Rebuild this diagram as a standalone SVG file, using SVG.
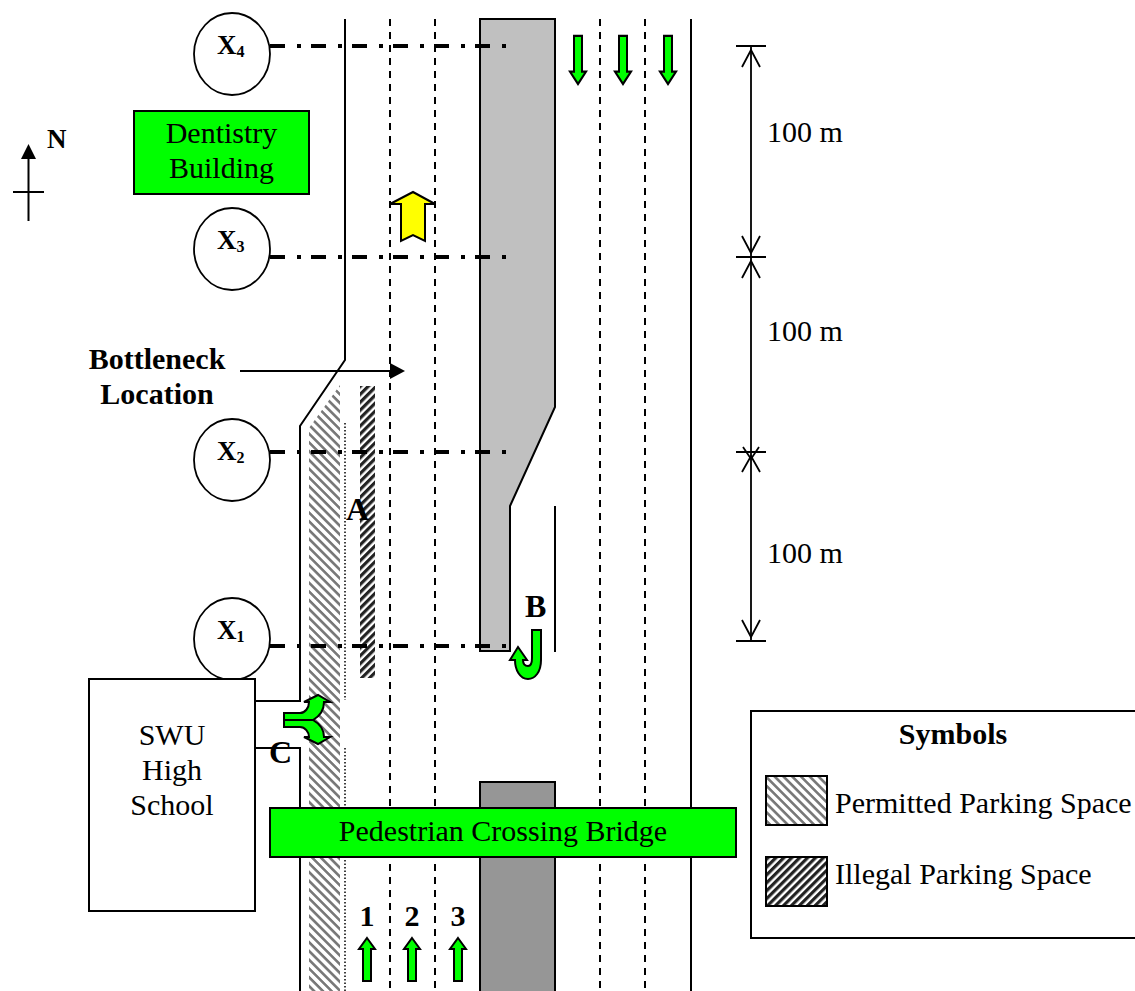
<svg xmlns="http://www.w3.org/2000/svg" width="1135" height="991" viewBox="0 0 1135 991">
<style>
text{font-family:"Liberation Serif","Times New Roman",serif;font-size:30px;fill:#000}
.b{font-weight:bold}
.m{text-anchor:middle}
.x{font-weight:bold;font-size:27px}
.sub{font-size:16px}
.abc{font-weight:bold;font-size:32px}
.road{fill:none;stroke:#000;stroke-width:2}
.lane{fill:none;stroke:#000;stroke-width:2;stroke-dasharray:7 6}
.sec{fill:none;stroke:#000;stroke-width:4;stroke-dasharray:15 12 4 10}
.box{stroke:#000;stroke-width:2}
.g{fill:#00ff00;stroke:#000;stroke-width:2}
.dim{fill:none;stroke:#000;stroke-width:1.8}
.circ{fill:#fff;stroke:#000;stroke-width:1.8}
</style>
<defs>
<pattern id="perm" width="6.2" height="6.2" patternUnits="userSpaceOnUse" patternTransform="rotate(45)"><rect width="6.2" height="6.2" fill="#fff"/><rect width="6.2" height="2.6" fill="#777"/></pattern>
<pattern id="illegal" width="5.6" height="5.6" patternUnits="userSpaceOnUse" patternTransform="rotate(-45)"><rect width="5.6" height="5.6" fill="#fff"/><rect width="5.6" height="3.2" fill="#222"/></pattern>
<path id="up" class="g" d="M0,0 L8,11 H4 V43 H-4 V11 H-8 Z"/>
</defs>

<g id="parking">
<polygon points="340,385 309,428 309,991 340,991" fill="url(#perm)"/>
<rect x="360" y="386" width="15" height="292" fill="url(#illegal)"/>
</g>

<g id="median-north"><polygon class="box" fill="#c0c0c0" points="480,19 555,19 555,407 510,506 510,651 480,651"/></g>
<g id="median-south"><rect class="box" fill="#969696" x="480" y="782" width="75" height="212"/></g>

<g id="connectors">
<path class="road" d="M345,19 V360 L300,426 V701 H255"/>
<path class="road" d="M255,748 H300 V991"/>
<path class="road" d="M691,19 V991"/>
<path class="road" d="M555,506 V652"/>
<path fill="none" stroke="#000" stroke-width="1.5" stroke-dasharray="1.5 2" d="M345,423 V700 M345,748 V991"/>
<path class="lane" d="M390,19 V991 M435,19 V991 M600,19 V991 M645,19 V991"/>
<path class="sec" d="M270,46 H507 M270,257 H507 M270,452 H507 M270,646 H507"/>
<path class="road" d="M240,371 H392"/>
<polygon points="405,371 390,363 390,379" fill="#000"/>
<path class="dim" d="M751,46 V641 M736,46 H766 M736,257 H766 M736,452 H766 M736,641 H766"/>
<path class="dim" d="M742,67 L751,50 L760,67 M742,236 L751,253 L760,236 M742,278 L751,261 L760,278 M743,447 L751,459 L759,447 M742,472 L751,456 L760,472 M742,620 L751,637 L760,620"/>
<path class="road" d="M28.5,221 V155 M13,192 H44"/>
<polygon points="28.5,144 21,159 36,159" fill="#000"/>
</g>

<g id="arrows">
<use href="#up" transform="translate(578,84) rotate(180) scale(1,1.12)"/>
<use href="#up" transform="translate(623,84) rotate(180) scale(1,1.12)"/>
<use href="#up" transform="translate(668,84) rotate(180) scale(1,1.12)"/>
<use href="#up" x="367" y="938"/>
<use href="#up" x="412" y="938"/>
<use href="#up" x="458" y="938"/>
<path class="box" fill="#ffff00" d="M413,192 L435,204 H425 V241 L413,235 L401,241 V204 H390 Z"/>
<path class="g" d="M532,630 H541 V660 C541,672 535,679 528,679 C520,679 515,670 515,660 H510 L518,647 L527,660 H523 C523,664 525,666 528,666 C531,666 532,663 532,658 Z"/>
<path class="g" d="M284,713 H300 C305,713 309,708 309,702 H304 L318,695 L330,702 H324 C324,710 320,716 313,720 C320,724 324,730 324,737 H330 L318,744 L304,737 H309 C309,732 305,727 300,727 H284 Z M284,720 H313"/>
</g>

<g id="x4"><ellipse class="circ" cx="232" cy="54" rx="38" ry="41"/><text x="217" y="54" class="x">X<tspan class="sub" dy="3">4</tspan></text></g>
<g id="x3"><ellipse class="circ" cx="232" cy="249" rx="38" ry="41"/><text x="217" y="249" class="x">X<tspan class="sub" dy="3">3</tspan></text></g>
<g id="x2"><ellipse class="circ" cx="232" cy="460" rx="38" ry="41"/><text x="217" y="460" class="x">X<tspan class="sub" dy="3">2</tspan></text></g>
<g id="x1"><ellipse class="circ" cx="232" cy="639" rx="38" ry="41"/><text x="217" y="639" class="x">X<tspan class="sub" dy="3">1</tspan></text></g>

<g id="dentistry"><rect class="box" fill="#00ff00" x="134" y="111" width="175" height="83"/><text x="221.500" y="143" class="m">Dentistry</text><text x="221.500" y="178" class="m">Building</text></g>
<g id="school"><rect class="box" fill="#fff" x="89" y="679" width="166" height="232"/><text x="172" y="745" class="m">SWU</text><text x="172" y="780" class="m">High</text><text x="172" y="815" class="m">School</text></g>
<g id="bridge"><rect class="box" fill="#00ff00" x="270" y="808" width="466" height="49"/><text x="503" y="841" class="m">Pedestrian Crossing Bridge</text></g>

<g id="labels">
<text x="47" y="148" class="b" style="font-size:27px">N</text>
<text x="157" y="369" class="b m">Bottleneck</text>
<text x="157" y="404" class="b m">Location</text>
<text x="346" y="520" class="abc">A</text>
<text x="525" y="617" class="abc">B</text>
<text x="269" y="763" class="abc">C</text>
<text x="367" y="926" class="b m">1</text>
<text x="412" y="926" class="b m">2</text>
<text x="458" y="926" class="b m">3</text>
<text x="767" y="142">100 m</text>
<text x="767" y="341">100 m</text>
<text x="767" y="563">100 m</text>
</g>

<g id="legend">
<rect class="box" fill="#fff" x="751" y="711" width="400" height="227"/>
<text x="953" y="744" class="b m">Symbols</text>
<rect class="box" fill="url(#perm)" x="766" y="776" width="61" height="49"/>
<text x="835" y="813">Permitted Parking Space</text>
<rect class="box" fill="url(#illegal)" x="766" y="857" width="61" height="49"/>
<text x="835" y="884">Illegal Parking Space</text>
</g>
</svg>
